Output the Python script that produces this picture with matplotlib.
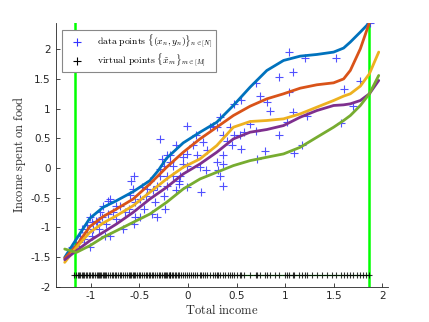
import matplotlib
matplotlib.use("Agg")
import matplotlib.pyplot as plt
from matplotlib.lines import Line2D

plt.rcParams['mathtext.fontset'] = 'cm'
plt.rcParams['axes.unicode_minus'] = False
plt.rcParams['font.family'] = ['DejaVu Sans']

# ---------------- data ----------------
data_x = [1.87, 1.04, 1.20, 1.52, 0.94, 1.08, 0.70, 0.74, 1.04, 0.84, 0.81, 1.60, 1.77, 1.70, 1.57,
          1.17, 1.09, 1.22, 1.08, 1.02, 0.94, 0.79, 0.71, 0.70, 0.64, 0.55, 0.47, 0.55, 0.54, 0.47,
          0.43, 0.45, 0.36, 0.36, 0.36, 0.33, 0.31, 0.30, 0.36, 0.33, 0.26, 0.30, 0.23, 0.19, 0.13,
          0.09, 0.05, 0.15, 0.08, -0.01, -0.01, -0.01, -0.01, -0.05, -0.05, -0.08, -0.09, -0.12, -0.09,
          -0.12, -0.15, -0.15, -0.19, -0.22, -0.22, -0.22, -0.25, -0.29, -0.27, -0.29, -0.29, -0.25,
          -0.24, -0.32, -0.34, -0.36, -0.32, -0.37, -0.39, -0.43, -0.45, -0.49, -0.47, -0.49, -0.54,
          -0.56, -0.59, -0.57, -0.56, -0.54, -0.61, -0.65, -0.67, -0.70, -0.74, -0.74, -0.77, -0.80,
          -0.82, -0.82, -0.84, -0.85, -0.87, -0.88, -0.91, -0.92, -0.94, -0.98, -0.99, -1.01, -1.01,
          -0.99, -1.04, -1.07, -1.09, -1.11, -1.12, -1.15, -1.19, -1.04, -0.80, 0.40, 0.20, -0.18,
          -0.42, 0.58, 0.12, -0.60, -0.95]
data_y = [2.44, 1.95, 1.85, 1.86, 1.53, 1.62, 1.43, 1.21, 1.28, 0.96, 1.11, 1.33, 1.47, 1.04, 0.75,
          0.38, 0.25, 0.88, 0.94, 0.78, 0.55, 0.28, 0.15, 0.63, 0.74, 1.14, 1.08, 0.32, 0.55, 0.55,
          0.69, 0.38, 0.21, 0.07, -0.30, -0.13, -0.04, 0.10, 0.55, 0.86, 0.71, 0.69, 0.69, -0.04, -0.40,
          0.21, 0.38, 0.44, 0.55, 0.71, 0.24, 0.04, -0.33, 0.18, 0.07, -0.13, -0.22, 0.38, -0.27,
          -0.38, 0.04, -0.13, 0.21, 0.21, -0.13, -0.30, 0.04, 0.49, 0.15, -0.02, -0.13, -0.47,
          -0.69, -0.30, -0.58, -0.38, -0.83, -0.78, -0.22, -0.47, -0.69, -0.52, -0.33, -0.83, -0.58,
          -0.13, -0.22, -0.36, -0.95, -0.83, -0.69, -0.75, -1.03, -0.64, -0.86, -0.64, -0.75, -0.52,
          -0.55, -0.78, -0.95, -1.14, -0.64, -0.83, -0.75, -1.03, -0.92, -1.03, -1.14, -0.83, -1.34,
          -0.92, -1.08, -1.20, -1.03, -1.14, -1.25, -1.31, -1.34, -0.97, -1.14, 0.45, 0.30, 0.10,
          -0.35, 0.60, 0.02, -0.45, -0.90]

virtual_x = [-1.17, -1.15, -1.13, -1.12, -1.11, -1.09, -1.08, -1.07, -1.05, -1.04, -1.02, -1.01,
             -0.99, -0.98, -0.96, -0.94, -0.93, -0.92, -0.91, -0.89, -0.87, -0.86, -0.85, -0.84,
             -0.82, -0.80, -0.78, -0.77, -0.75, -0.74, -0.72, -0.70, -0.69, -0.67, -0.65, -0.63,
             -0.61, -0.60, -0.59, -0.57, -0.56, -0.54, -0.52, -0.50, -0.49, -0.47, -0.45, -0.43,
             -0.42, -0.40, -0.39, -0.37, -0.36, -0.34, -0.32, -0.30, -0.29, -0.27, -0.25, -0.24,
             -0.23, -0.22, -0.20, -0.19, -0.18, -0.16, -0.15, -0.13, -0.12, -0.10, -0.09, -0.07,
             -0.05, -0.03, -0.01, 0.01, 0.03, 0.05, 0.07, 0.09, 0.12, 0.13, 0.15, 0.18, 0.20,
             0.23, 0.26, 0.28, 0.30, 0.31, 0.33, 0.36, 0.38, 0.41, 0.43, 0.45, 0.47, 0.50, 0.54,
             0.55, 0.58, 0.64, 0.70, 0.71, 0.74, 0.79, 0.81, 0.84, 0.90, 0.94, 1.00, 1.02, 1.04,
             1.08, 1.09, 1.14, 1.17, 1.20, 1.22, 1.28, 1.33, 1.38, 1.43, 1.48, 1.52, 1.57, 1.60,
             1.64, 1.67, 1.70, 1.74, 1.77, 1.80, 1.83, 1.86]
virtual_level = -1.8

boundary_x = [-1.165, 1.866]

# quantile curves
curve_x_short = [-1.268, -1.148, -1.010, -0.873, -0.735, -0.564, -0.392, -0.306, -0.220, -0.049,
                 0.124, 0.296, 0.467, 0.639, 0.811, 0.983, 1.155, 1.326, 1.498, 1.601, 1.670,
                 1.773, 1.866]
q_blue = [-1.508, -1.199, -0.850, -0.664, -0.552, -0.400, -0.214, -0.045, 0.163, 0.422,
          0.602, 0.770, 1.052, 1.361, 1.642, 1.811, 1.884, 1.912, 1.952, 2.020, 2.121,
          2.290, 2.447]
q_orange = [-1.525, -1.311, -0.990, -0.820, -0.692, -0.524, -0.270, -0.130, 0.011, 0.264,
            0.489, 0.686, 0.883, 1.040, 1.164, 1.249, 1.344, 1.401, 1.434, 1.500, 1.643,
            2.008, 2.447]

curve_x_long = [-1.268, -1.148, -1.010, -0.873, -0.735, -0.564, -0.392, -0.220, -0.049, 0.124,
                0.296, 0.467, 0.639, 0.811, 0.983, 1.155, 1.326, 1.498, 1.601, 1.670, 1.773,
                1.866, 1.962]
q_yellow = [-1.592, -1.339, -1.086, -0.930, -0.805, -0.636, -0.411, -0.186, 0.011, 0.152,
            0.377, 0.686, 0.782, 0.799, 0.827, 0.911, 1.024, 1.136, 1.210, 1.249, 1.378,
            1.586, 1.952]
q_purple = [-1.547, -1.396, -1.227, -1.086, -0.945, -0.749, -0.524, -0.327, -0.102, 0.067,
            0.264, 0.489, 0.602, 0.647, 0.714, 0.855, 0.967, 1.052, 1.063, 1.080, 1.136,
            1.249, 1.474]
q_green = [-1.367, -1.424, -1.311, -1.171, -1.058, -0.917, -0.777, -0.580, -0.355, -0.186,
           -0.073, 0.039, 0.123, 0.180, 0.236, 0.348, 0.517, 0.686, 0.799, 0.883, 1.052,
           1.249, 1.558]

c_blue = '#0072BD'
c_orange = '#D95319'
c_yellow = '#EDB120'
c_purple = '#7E2F8E'
c_green = '#77AC30'

# ---------------- plot ----------------
fig = plt.figure(figsize=(4.29, 3.22), dpi=100)
ax = fig.add_axes([0.13, 0.11, 0.775, 0.82])

for bx in boundary_x:
    ax.axvline(bx, color='#00FF00', lw=1.8, zorder=1)

ax.plot(data_x, data_y, '+', color='#3333FF', ms=5.5, mew=0.8, alpha=0.85, zorder=2)

kw = dict(lw=2, zorder=3, solid_capstyle='round', solid_joinstyle='round')
ax.plot(curve_x_short, q_blue, color=c_blue, **kw)
ax.plot(curve_x_short, q_orange, color=c_orange, **kw)
ax.plot(curve_x_long, q_yellow, color=c_yellow, **kw)
ax.plot(curve_x_long, q_purple, color=c_purple, **kw)
ax.plot(curve_x_long, q_green, color=c_green, **kw)

ax.plot([virtual_x[0], virtual_x[-1]], [virtual_level, virtual_level], color='#00AA00', lw=0.8, zorder=2)
ax.plot(virtual_x, [virtual_level] * len(virtual_x), '+', color='black', ms=5, mew=0.8, alpha=0.8, zorder=3)

ax.set_xlim(-1.36, 2.06)
ax.set_ylim(-2, 2.45)
ax.set_xticks([-1, -0.5, 0, 0.5, 1, 1.5, 2])
ax.set_xticklabels(['-1', '-0.5', '0', '0.5', '1', '1.5', '2'])
ax.set_yticks([-2, -1.5, -1, -0.5, 0, 0.5, 1, 1.5, 2])
ax.set_yticklabels(['-2', '-1.5', '-1', '-0.5', '0', '0.5', '1', '1.5', '2'])

for s in ['top', 'right']:
    ax.spines[s].set_visible(False)
for s in ['left', 'bottom']:
    ax.spines[s].set_color('#262626')
    ax.spines[s].set_linewidth(0.6)
ax.tick_params(direction='in', length=3, width=0.6, colors='#262626', labelsize=7.5)

ax.set_xlabel(r'$\mathrm{Total\ income}$', fontsize=9, color='#262626', labelpad=1)
ax.set_ylabel(r'$\mathrm{Income\ spent\ on\ food}$', fontsize=9, color='#262626', labelpad=2)

handles = [Line2D([], [], ls='none', marker='+', color='#3333FF', ms=5.5, mew=0.8),
           Line2D([], [], ls='none', marker='+', color='black', ms=5.5, mew=0.8)]
labels = [r'$\mathrm{data\ points}\ \{(x_n, y_n)\}_{n\in[N]}$',
          r'$\mathrm{virtual\ points}\ \{\tilde{x}_m\}_{m\in[M]}$']
leg = ax.legend(handles, labels, loc='upper left', bbox_to_anchor=(0.02, 0.97),
                fontsize=7, frameon=True, fancybox=False, edgecolor='#888888',
                framealpha=1, borderpad=0.3, labelspacing=0.2, handletextpad=0.8,
                handlelength=2.5, borderaxespad=0)
leg.get_frame().set_linewidth(0.8)

fig.savefig('out.png', dpi=100)
